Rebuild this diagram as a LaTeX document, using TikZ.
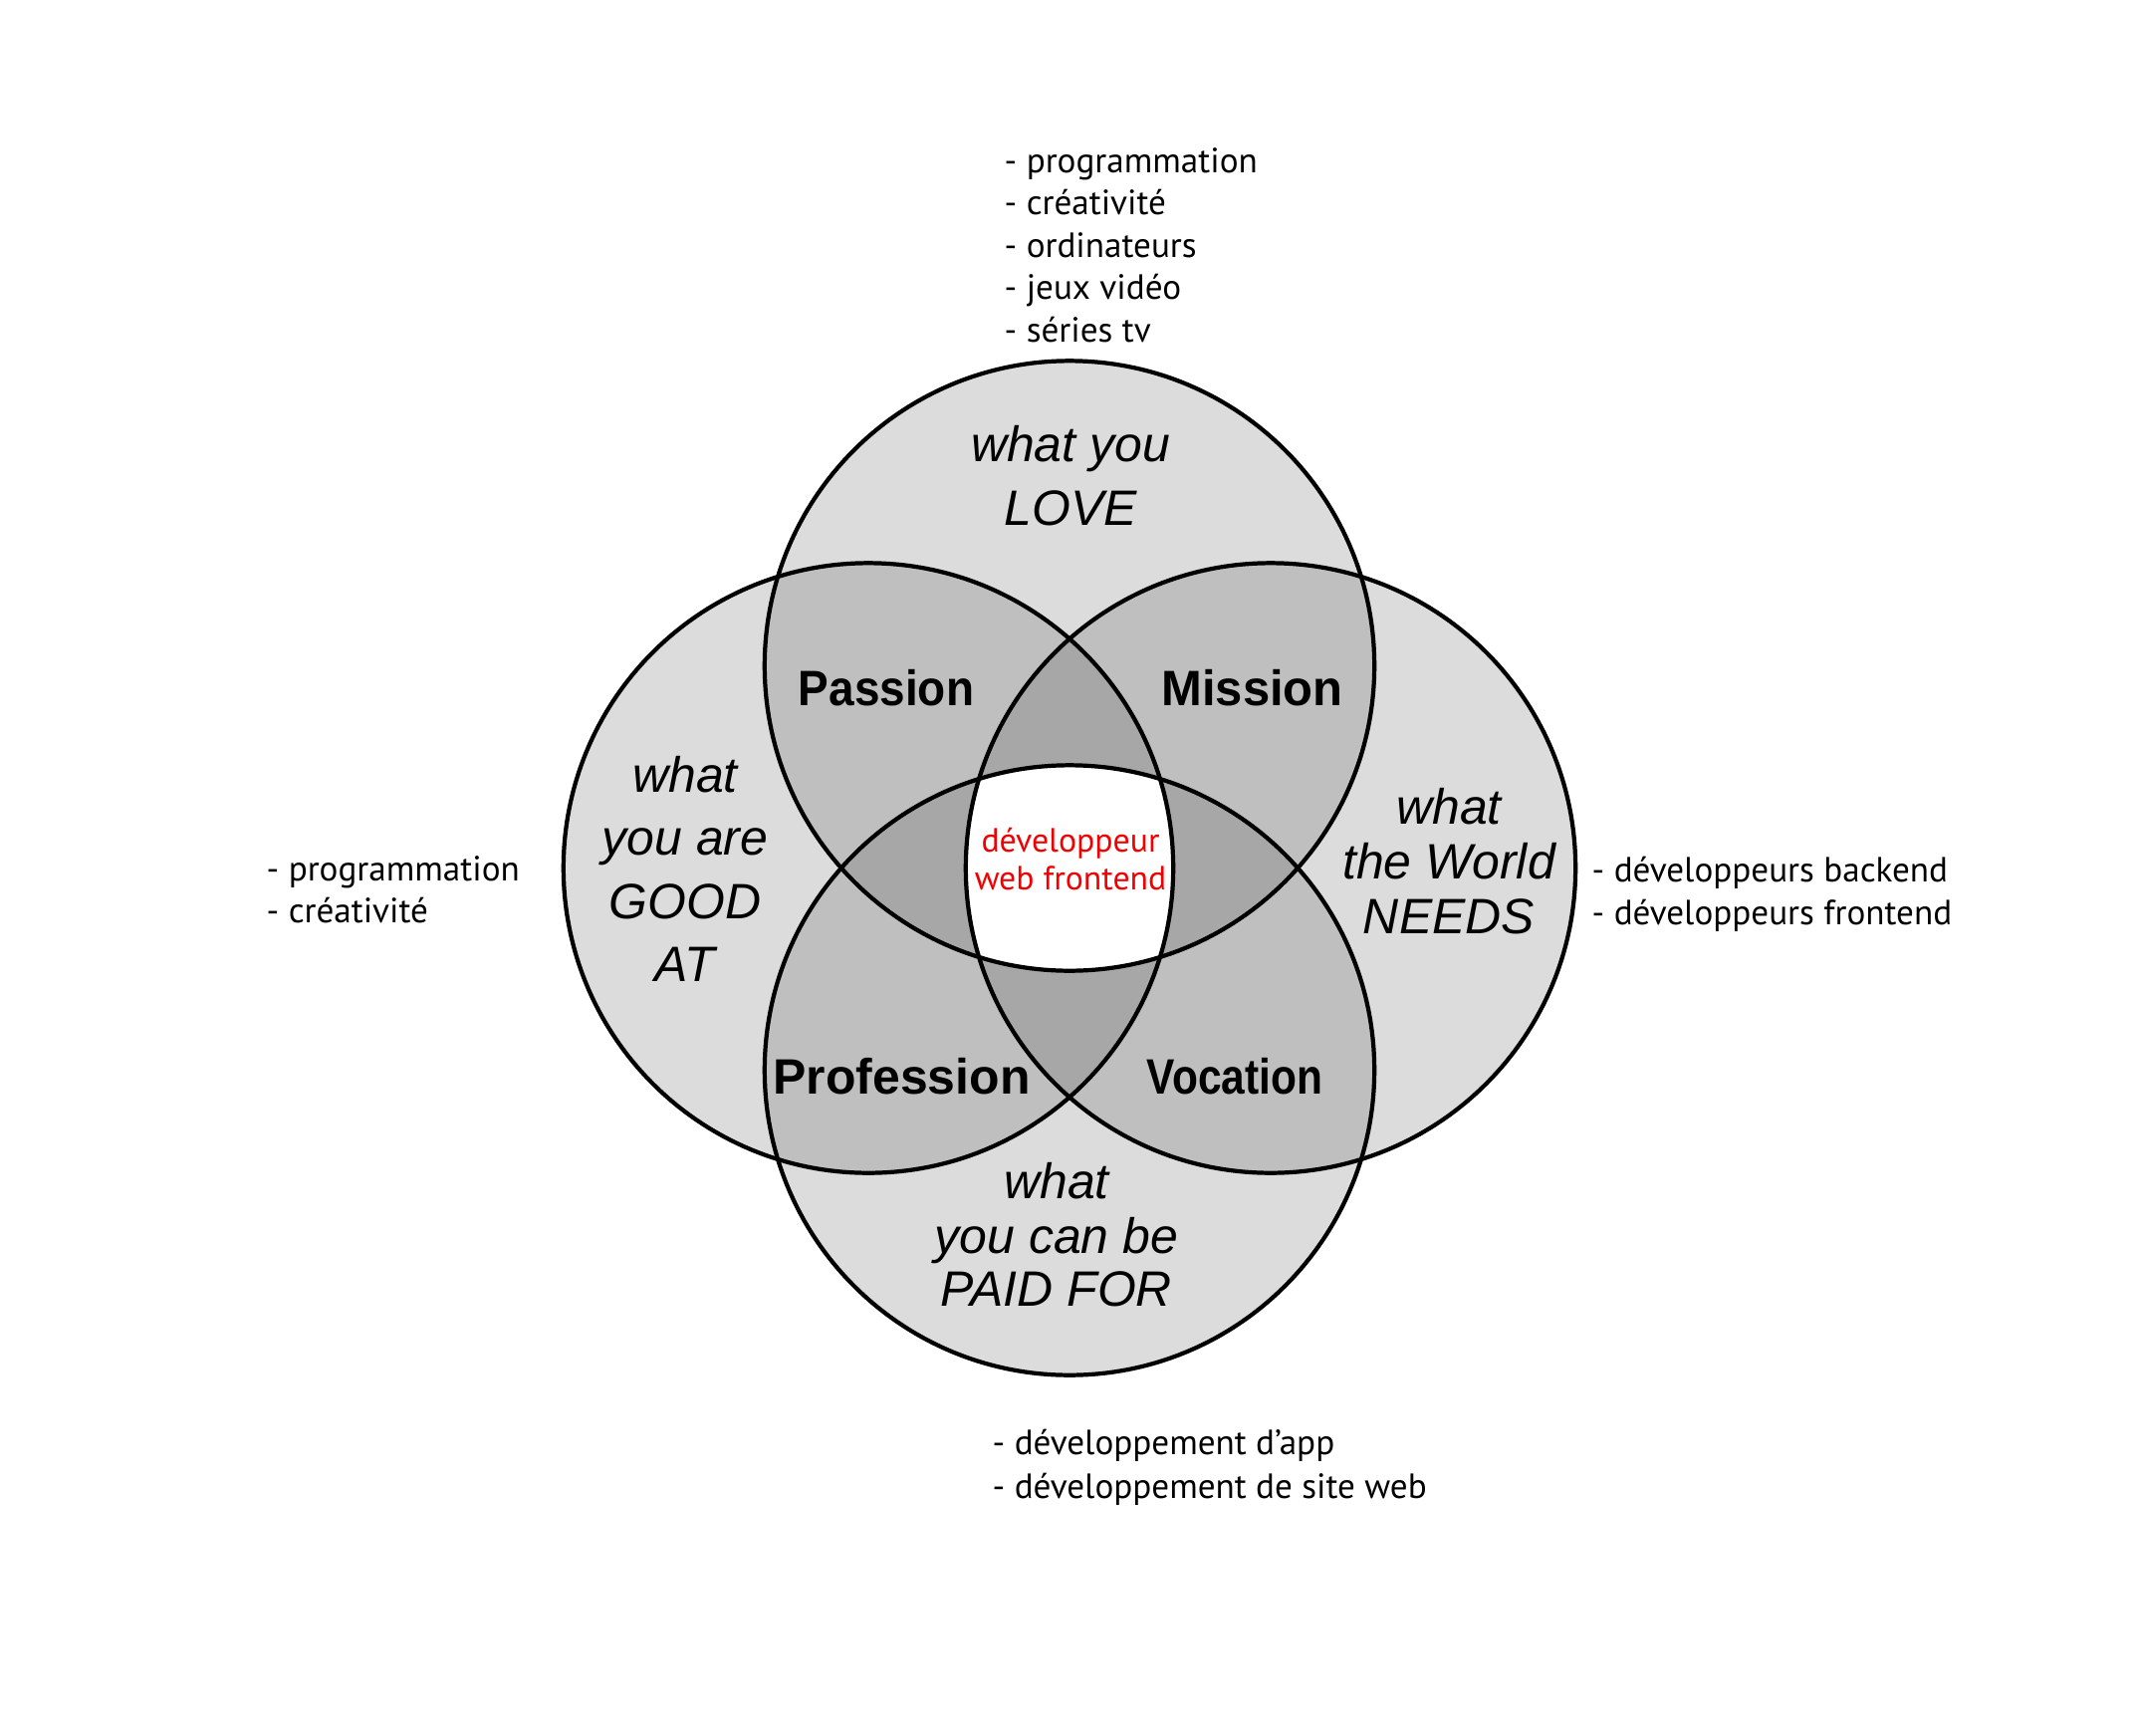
\documentclass[tikz,border=0pt]{standalone}
\usepackage{fontspec}
\usepackage{graphicx}
\newfontfamily\arialf{Liberation Sans}
\newfontfamily\myriadf{PT Sans}
\definecolor{cone}{HTML}{DCDCDC}
\definecolor{ctwo}{HTML}{BFBFBF}
\definecolor{cthree}{HTML}{A7A7A7}
\definecolor{redtxt}{HTML}{F00000}
\tikzset{
  ital/.style={font=\arialf\itshape\fontsize{14.2}{17}\selectfont, anchor=base, inner sep=0pt},
  boldlab/.style={font=\arialf\bfseries\fontsize{14.2}{17}\selectfont, anchor=base, inner sep=0pt},
  listtxt/.style={font=\myriadf\fontsize{10}{12}\selectfont, anchor=base west, inner sep=0pt},
  redlab/.style={font=\myriadf\fontsize{9.6}{12}\selectfont, text=redtxt, anchor=base, inner sep=0pt},
  ring/.style={draw=black, line width=1.2pt}
}
\def\cT{(1074,668.5) circle (3.06cm)}
\def\cL{(872,871.5) circle (3.06cm)}
\def\cR{(1276,871.5) circle (3.06cm)}
\def\cB{(1074,1074.5) circle (3.06cm)}
\begin{document}
\begin{tikzpicture}[x=0.01cm,y=-0.01cm]
\useasboundingbox (0,0) rectangle (2148,1742);
% single regions
\fill[cone] \cT; \fill[cone] \cL; \fill[cone] \cR; \fill[cone] \cB;
% pairs
\begin{scope}\clip \cT; \fill[ctwo] \cL; \fill[ctwo] \cR; \fill[ctwo] \cB; \end{scope}
\begin{scope}\clip \cL; \fill[ctwo] \cR; \fill[ctwo] \cB; \end{scope}
\begin{scope}\clip \cR; \fill[ctwo] \cB; \end{scope}
% triples
\begin{scope}\clip \cT; \clip \cL; \fill[cthree] \cR; \fill[cthree] \cB; \end{scope}
\begin{scope}\clip \cT; \clip \cR; \fill[cthree] \cB; \end{scope}
\begin{scope}\clip \cL; \clip \cR; \fill[cthree] \cB; \end{scope}
% all four
\begin{scope}\clip \cT; \clip \cL; \clip \cR; \fill[white] \cB; \end{scope}
% outlines
\coordinate (ct) at (1074,668.5);
\coordinate (cl) at (872,871.5);
\coordinate (cr) at (1276,871.5);
\coordinate (cb) at (1074,1074.5);
\draw[ring] (ct) circle (3.06cm);
\draw[ring] (cl) circle (3.06cm);
\draw[ring] (cr) circle (3.06cm);
\draw[ring] (cb) circle (3.06cm);
% circle labels
\node[ital] (love1) at (1075,463) {what you};
\node[ital] (love2) at (1075,527) {LOVE};
\node[ital] (good1) at (688,795) {what};
\node[ital] (good2) at (688,858) {you are};
\node[ital] (good3) at (688,922) {GOOD};
\node[ital] (good4) at (688,985) {AT};
\node[ital] (need1) at (1455,827) {what};
\node[ital] (need2) at (1455,882) {the World};
\node[ital] (need3) at (1455,937) {NEEDS};
\node[ital] (paid1) at (1061,1203) {what};
\node[ital] (paid2) at (1061,1258) {you can be};
\node[ital] (paid3) at (1061,1311) {PAID FOR};
% overlap labels
\node[boldlab] (passion) at (890,708) {\scalebox{0.92}[1]{Passion}};
\node[boldlab] (mission) at (1257.5,708) {\scalebox{0.98}[1]{Mission}};
\node[boldlab] (profession) at (905.5,1098) {\scalebox{1.0}[1]{Profession}};
\node[boldlab] (vocation) at (1240,1098) {\scalebox{0.85}[1]{Vocation}};
% centre
\node[redlab] (dev1) at (1075,855) {développeur};
\node[redlab] (dev2) at (1075,893) {web frontend};
% lists
\node[listtxt] (top1) at (1008,173) {- programmation};
\node[listtxt] (top2) at (1008,215.5) {- créativité};
\node[listtxt] (top3) at (1008,258) {- ordinateurs};
\node[listtxt] (top4) at (1008,300.5) {- jeux vidéo};
\node[listtxt] (top5) at (1008,343) {- séries tv};
\node[listtxt] (left1) at (267,884) {- programmation};
\node[listtxt] (left2) at (267,926) {- créativité};
\node[listtxt] (right1) at (1598,885) {- développeurs backend};
\node[listtxt] (right2) at (1598,928) {- développeurs frontend};
\node[listtxt] (bot1) at (996,1460) {- développement d’app};
\node[listtxt] (bot2) at (996,1504) {- développement de site web};
\end{tikzpicture}
\end{document}
